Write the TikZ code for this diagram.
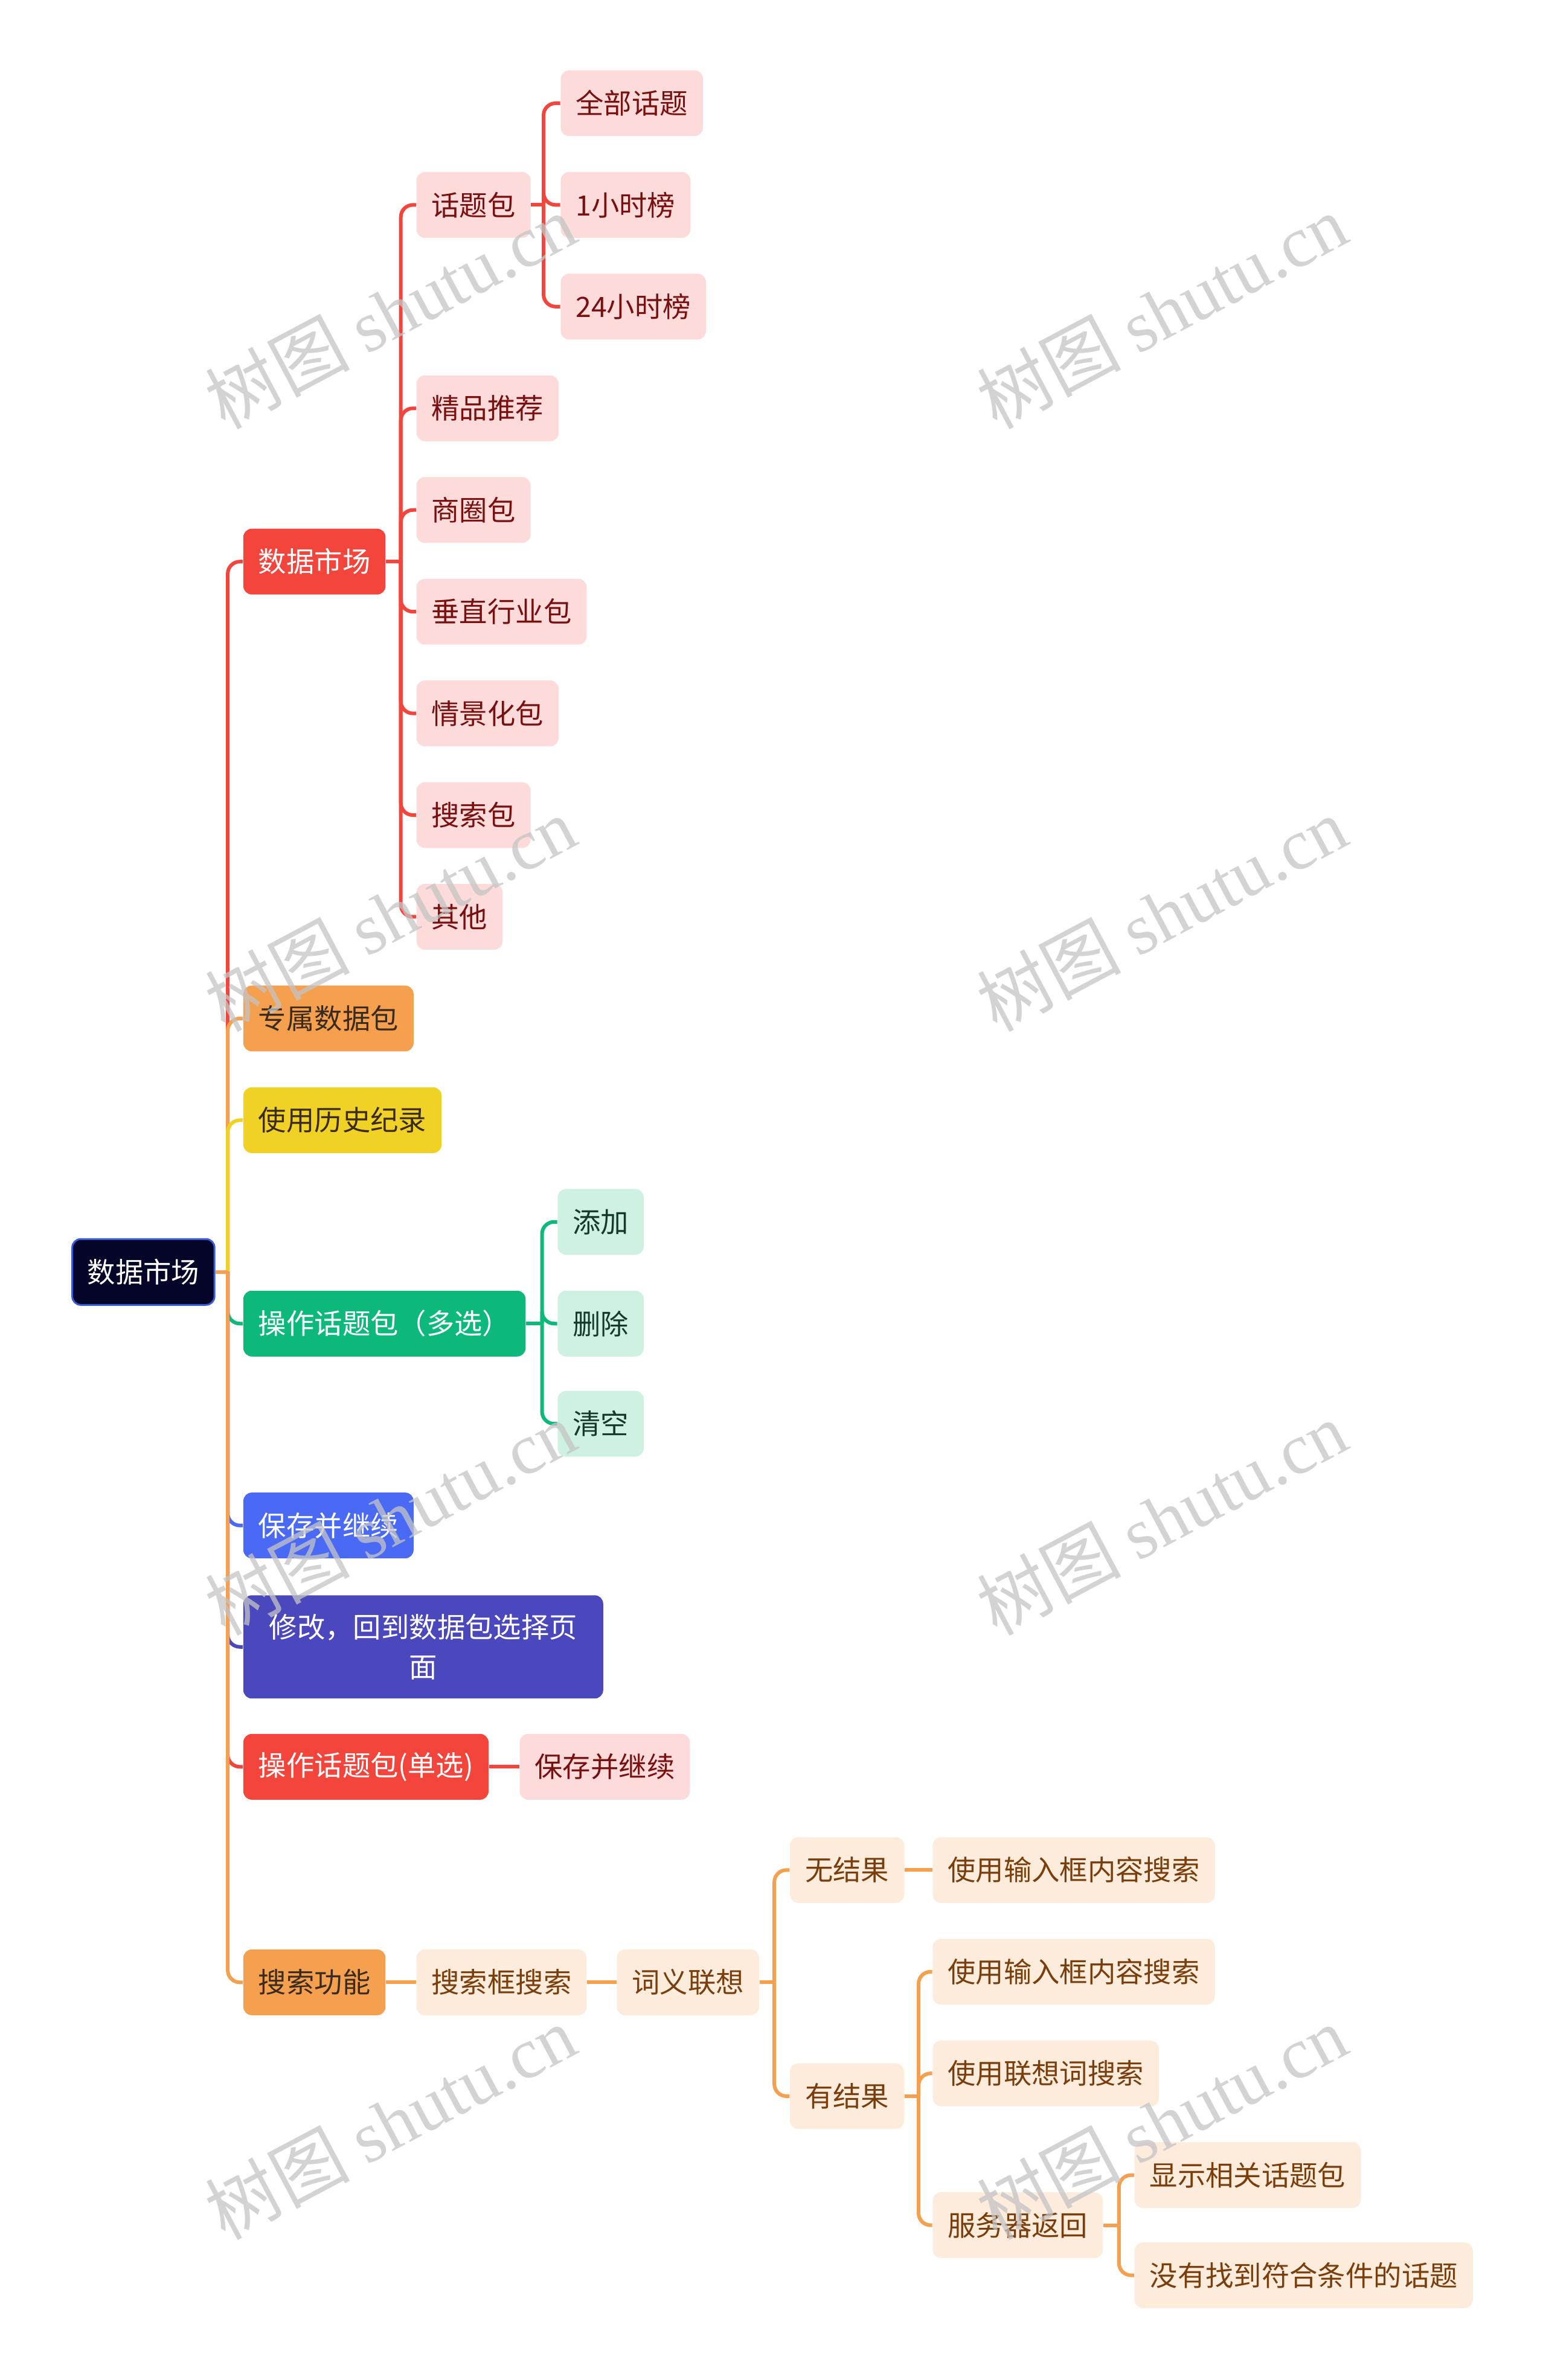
\documentclass[tikz,border=0pt]{standalone}
\usepackage{fontspec}
\setmainfont{Noto Sans CJK SC}
\newfontfamily\wmlatin{Liberation Serif}
\usetikzlibrary{positioning}

\definecolor{rootfill}{HTML}{05052A}
\definecolor{rootline}{HTML}{3B5BDB}
\definecolor{redc}{HTML}{F4453D}
\definecolor{redpale}{HTML}{FDDBDA}
\definecolor{redtext}{HTML}{7A0F0F}
\definecolor{orangec}{HTML}{F5A04E}
\definecolor{orangepale}{HTML}{FDEBDC}
\definecolor{orangetext}{HTML}{7A3E0C}
\definecolor{yellowc}{HTML}{F0D126}
\definecolor{greenc}{HTML}{0DB97A}
\definecolor{greenpale}{HTML}{CFF1E2}
\definecolor{greentext}{HTML}{123B2C}
\definecolor{bluec}{HTML}{4A6AF5}
\definecolor{indigoc}{HTML}{4B48BD}
\definecolor{darktext}{HTML}{3A2B1E}
\definecolor{wmgray}{HTML}{C4C4C4}

\begin{document}
\begin{tikzpicture}[x=0.25147mm, y=-0.25147mm,
  box/.style={rounded corners=1.4mm, anchor=west, minimum height=10.9mm, inner xsep=2.5mm, inner ysep=0pt, font=\fontsize{13.2}{18.6}\selectfont},
  rootbox/.style={box, fill=rootfill, draw=rootline, line width=0.3mm, text=white},
  redbox/.style={box, fill=redc, text=white},
  orangebox/.style={box, fill=orangec, text=darktext},
  yellowbox/.style={box, fill=yellowc, text=darktext},
  greenbox/.style={box, fill=greenc, text=white},
  bluebox/.style={box, fill=bluec, text=white},
  indigobox/.style={box, fill=indigoc, text=white, align=center, text width=54.6mm, minimum height=17.1mm},
  redsub/.style={box, fill=redpale, text=redtext},
  greensub/.style={box, fill=greenpale, text=greentext},
  orangesub/.style={box, fill=orangepale, text=orangetext},
  link/.style={line width=0.6mm, rounded corners=2mm},
  wmark/.style={text=wmgray, text opacity=0.75, rotate=28, font=\fontsize{34}{34}\selectfont}]
\useasboundingbox (0,0) rectangle (1018,1568);

% root and first level
\node[rootbox] at (47, 838) (root) {数据市场};
\node[redbox] at (160, 370) (market) {数据市场};
\node[orangebox] at (160, 671) (own) {专属数据包};
\node[yellowbox] at (160, 738) (history) {使用历史纪录};
\node[greenbox] at (160, 872) (multi) {操作话题包（多选）};
\node[bluebox] at (160, 1005) (save) {保存并继续};
\node[indigobox] at (160, 1085) (back) {修改，回到数据包选择页\\面};
\node[redbox] at (160, 1164) (single) {操作话题包(单选)};
\node[orangebox] at (160, 1306) (search) {搜索功能};

% data market branch
\node[redsub] at (274, 135) (topic) {话题包};
\node[redsub] at (274, 269) (fine) {精品推荐};
\node[redsub] at (274, 336) (circle) {商圈包};
\node[redsub] at (274, 403) (trade) {垂直行业包};
\node[redsub] at (274, 470) (scene) {情景化包};
\node[redsub] at (274, 537) (searchpack) {搜索包};
\node[redsub] at (274, 604) (other) {其他};
\node[redsub] at (369, 68) (all) {全部话题};
\node[redsub] at (369, 135) (hour) {1小时榜};
\node[redsub] at (369, 202) (day) {24小时榜};

% multi select branch
\node[greensub] at (367, 805) (add) {添加};
\node[greensub] at (367, 872) (del) {删除};
\node[greensub] at (367, 938) (clear) {清空};

% single select branch
\node[redsub] at (342, 1164) (keep) {保存并继续};

% search branch
\node[orangesub] at (274, 1306) (field) {搜索框搜索};
\node[orangesub] at (406, 1306) (assoc) {词义联想};
\node[orangesub] at (520, 1232) (none) {无结果};
\node[orangesub] at (614, 1232) (plain) {使用输入框内容搜索};
\node[orangesub] at (520, 1381) (found) {有结果};
\node[orangesub] at (614, 1299) (input) {使用输入框内容搜索};
\node[orangesub] at (614, 1366) (hint) {使用联想词搜索};
\node[orangesub] at (614, 1466) (server) {服务器返回};
\node[orangesub] at (747, 1433) (show) {显示相关话题包};
\node[orangesub] at (747, 1499) (missing) {没有找到符合条件的话题};

% junctions
\coordinate (jroot) at (150, 838);
\coordinate (jmarket) at (264, 370);
\coordinate (jtopic) at (358, 135);
\coordinate (jmulti) at (357, 872);
\coordinate (jassoc) at (510, 1306);
\coordinate (jfound) at (605, 1381);
\coordinate (jserver) at (737, 1466);

% connectors
\draw[link, redc] (jroot) |- (market.west);
\draw[link, orangec] (jroot) |- (own.west);
\draw[link, yellowc] (jroot) |- (history.west);
\draw[link, greenc] (jroot) |- (multi.west);
\draw[link, bluec] (jroot) |- (save.west);
\draw[link, indigoc] (jroot) |- (back.west);
\draw[link, redc] (jroot) |- (single.west);
\draw[link, orangec] (jroot) |- (search.west);
\draw[link, orangec] (root.east) -- (jroot);

\draw[link, redc] (market.east) -- (jmarket);
\foreach \kid in {topic, fine, circle, trade, scene, searchpack, other}
  \draw[link, redc] (jmarket) |- (\kid.west);
\draw[link, redc] (topic.east) -- (jtopic);
\foreach \kid in {all, hour, day}
  \draw[link, redc] (jtopic) |- (\kid.west);

\draw[link, greenc] (multi.east) -- (jmulti);
\foreach \kid in {add, del, clear}
  \draw[link, greenc] (jmulti) |- (\kid.west);

\draw[link, redc] (single.east) -- (keep.west);

\draw[link, orangec] (search.east) -- (field.west);
\draw[link, orangec] (field.east) -- (assoc.west);
\draw[link, orangec] (assoc.east) -- (jassoc);
\draw[link, orangec] (jassoc) |- (none.west);
\draw[link, orangec] (jassoc) |- (found.west);
\draw[link, orangec] (none.east) -- (plain.west);
\draw[link, orangec] (found.east) -- (jfound);
\foreach \kid in {input, hint, server}
  \draw[link, orangec] (jfound) |- (\kid.west);
\draw[link, orangec] (server.east) -- (jserver);
\draw[link, orangec] (jserver) |- (show.west);
\draw[link, orangec] (jserver) |- (missing.west);

% watermark
\foreach \wx/\wy [count=\i] in {257/205, 765/205, 257/602, 765/602, 257/1000, 765/1000, 257/1398, 765/1398}
  \node[wmark] at (\wx, \wy) (wm\i) {树图 {\wmlatin shutu.cn}};
\end{tikzpicture}
\end{document}
